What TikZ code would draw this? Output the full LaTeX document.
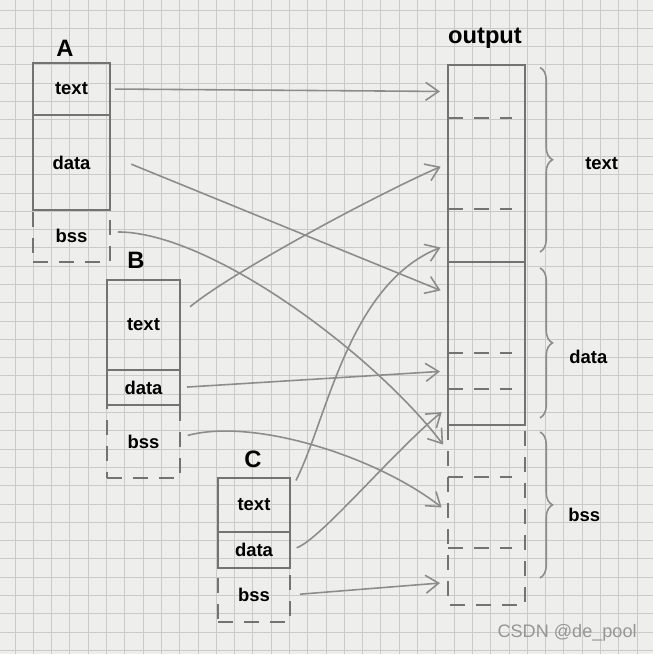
\documentclass[tikz,border=0pt]{standalone}
\usepackage{fontspec}
\setmainfont{Liberation Sans}
\usepackage{tikz}
\usetikzlibrary{arrows.meta, positioning, calc, decorations.pathreplacing}
\definecolor{pencil}{RGB}{115,115,115}
\definecolor{lightpencil}{RGB}{140,140,140}
\definecolor{paper}{RGB}{238,238,237}
\definecolor{gridgray}{RGB}{202,202,202}
\definecolor{markgray}{RGB}{150,150,150}
\tikzset{
  block/.style={rectangle, draw=pencil, minimum width=1.5cm,
    inner sep=0pt, outer sep=0pt,
    font=\fontsize{10.5}{12}\selectfont\bfseries, line width=1pt},
  bssblock/.style={block, dash pattern=on 0.3cm off 0.22cm},
  slot/.style={rectangle, minimum width=1.54cm, inner sep=0pt, outer sep=0pt},
  title/.style={font=\fontsize{13.5}{15}\selectfont\bfseries, inner sep=0pt},
  tag/.style={font=\fontsize{10.5}{12}\selectfont\bfseries, anchor=west, inner sep=0pt},
  arrow/.style={-{Straight Barb[length=2.6mm, width=3.6mm]}, line width=0.9pt,
    color=lightpencil, shorten >=0.16cm},
  line/.style={line width=1pt, color=pencil},
  dashline/.style={line width=1pt, color=pencil, dash pattern=on 0.3cm off 0.22cm},
  bracket/.style={decorate, decoration={brace, amplitude=0.25cm},
    line width=0.9pt, color=lightpencil}
}

\begin{document}
\begin{tikzpicture}[x=0.02cm, y=-0.02cm]
  \useasboundingbox (0,0) rectangle (653,654);
  \fill[paper] (0,0) rectangle (653,654);
  \draw[gridgray, line width=0.5pt, step=0.366cm, shift={(15,10)}] (-15,-10) grid (638,644);

  % object file A
  \node[title] (Alabel) at (65,48) {A};
  \node[block, minimum width=1.54cm, minimum height=1.04cm, anchor=north] (At) at (71.5,63) {text};
  \node[block, minimum width=1.54cm, minimum height=1.9cm, below=0pt of At] (Ad) {data};
  \node[bssblock, minimum width=1.54cm, minimum height=1.04cm, below=0pt of Ad] (Ab) {bss};

  % object file B
  \node[title] (Blabel) at (136,260) {B};
  \node[block, minimum width=1.46cm, minimum height=1.8cm, anchor=north] (Bt) at (143.5,280) {text};
  \node[block, minimum width=1.46cm, minimum height=0.7cm, below=0pt of Bt] (Bd) {data};
  \node[bssblock, minimum width=1.46cm, minimum height=1.46cm, below=0pt of Bd] (Bb) {bss};

  % object file C
  \node[title] (Clabel) at (253,459) {C};
  \node[block, minimum width=1.44cm, minimum height=1.08cm, anchor=north] (Ct) at (254,478) {text};
  \node[block, minimum width=1.44cm, minimum height=0.72cm, below=0pt of Ct] (Cd) {data};
  \node[bssblock, minimum width=1.44cm, minimum height=1.08cm, below=0pt of Cd] (Cb) {bss};

  % output file
  \node[title] (outlabel) at (485,38) {output};
  \node[slot, minimum height=1.06cm, anchor=north] (oT1) at (486.5,65) {};
  \node[slot, minimum height=1.82cm, below=0pt of oT1] (oT2) {};
  \node[slot, minimum height=1.06cm, below=0pt of oT2] (oT3) {};
  \node[slot, minimum height=1.82cm, below=0pt of oT3] (oD1) {};
  \node[slot, minimum height=0.72cm, below=0pt of oD1] (oD2) {};
  \node[slot, minimum height=0.72cm, below=0pt of oD2] (oD3) {};
  \node[slot, minimum height=1.04cm, below=0pt of oD3] (oB1) {};
  \node[slot, minimum height=1.42cm, below=0pt of oB1] (oB2) {};
  \node[slot, minimum height=1.14cm, below=0pt of oB2] (oB3) {};

  \draw[line] (oT1.north west) rectangle (oT3.south east);
  \draw[line] (oD1.north west) rectangle (oD3.south east);
  \draw[dashline] (oB1.north west) rectangle (oB3.south east);
  \draw[dashline, shorten >=0.25cm] (oT1.south west) -- (oT1.south east);
  \draw[dashline, shorten >=0.25cm] (oT2.south west) -- (oT2.south east);
  \draw[dashline, shorten >=0.25cm] (oD1.south west) -- (oD1.south east);
  \draw[dashline, shorten >=0.25cm] (oD2.south west) -- (oD2.south east);
  \draw[dashline, shorten >=0.25cm] (oB1.south west) -- (oB1.south east);
  \draw[dashline, shorten >=0.25cm] (oB2.south west) -- (oB2.south east);

  % braces
  \draw[bracket] ([shift={(0.3cm,-0.05cm)}]oT1.north east) -- ([shift={(0.3cm,0.2cm)}]oT3.south east);
  \draw[bracket] ([shift={(0.3cm,-0.12cm)}]oD1.north east) -- ([shift={(0.3cm,0.14cm)}]oD3.south east);
  \draw[bracket] ([shift={(0.3cm,-0.14cm)}]oB1.north east) -- ([shift={(0.3cm,0.54cm)}]oB3.south east);
  \node[tag] (textlbl) at ([xshift=1.2cm]$(oT1.north east)!0.5!(oT3.south east)$) {text};
  \node[tag] (datalbl) at ([shift={(0.88cm,-0.26cm)}]$(oD1.north east)!0.5!(oD3.south east)$) {data};
  \node[tag] (bsslbl) at ([xshift=0.86cm]$(oB1.north east)!0.5!(oB3.south east)$) {bss};

  % sections moved into output
  \draw[arrow, shorten <=0.1cm] (At.east) -- (oT1.west);
  \draw[arrow, shorten <=0.46cm] ([yshift=0.14cm]Ad.east) -- ([yshift=0.28cm]oD1.west);
  \draw[arrow, shorten <=0.16cm] ([yshift=0.08cm]Ab.east) .. controls +(100,0) and +(-75,-98) .. (oB1.west);
  \draw[arrow, shorten <=0.26cm] ([yshift=0.2cm]Bt.east) .. controls +(55,-45) and +(-65,28) .. (oT2.west);
  \draw[arrow, shorten <=0.14cm] (Bd.east) -- (oD2.west);
  \draw[arrow, shorten <=0.16cm] ([yshift=0.08cm]Bb.east) .. controls +(75,-20) and +(-70,-55) .. (oB2.west);
  \draw[arrow, shorten <=0.26cm] ([yshift=0.26cm]Ct.east) .. controls +(37,-72) and +(-100,40) .. ([yshift=-0.18cm]oT3.west);
  \draw[arrow, shorten <=0.14cm] (Cd.east) .. controls +(30,-10) and +(-55,45) .. (oD3.west);
  \draw[arrow, shorten <=0.2cm] (Cb.east) -- ([yshift=-0.12cm]oB3.west);

  \node[font=\fontsize{10.3}{12}\selectfont, text=markgray, anchor=east, inner sep=0pt] (mark) at (637,633) {CSDN @de\_pool};
\end{tikzpicture}
\end{document}
